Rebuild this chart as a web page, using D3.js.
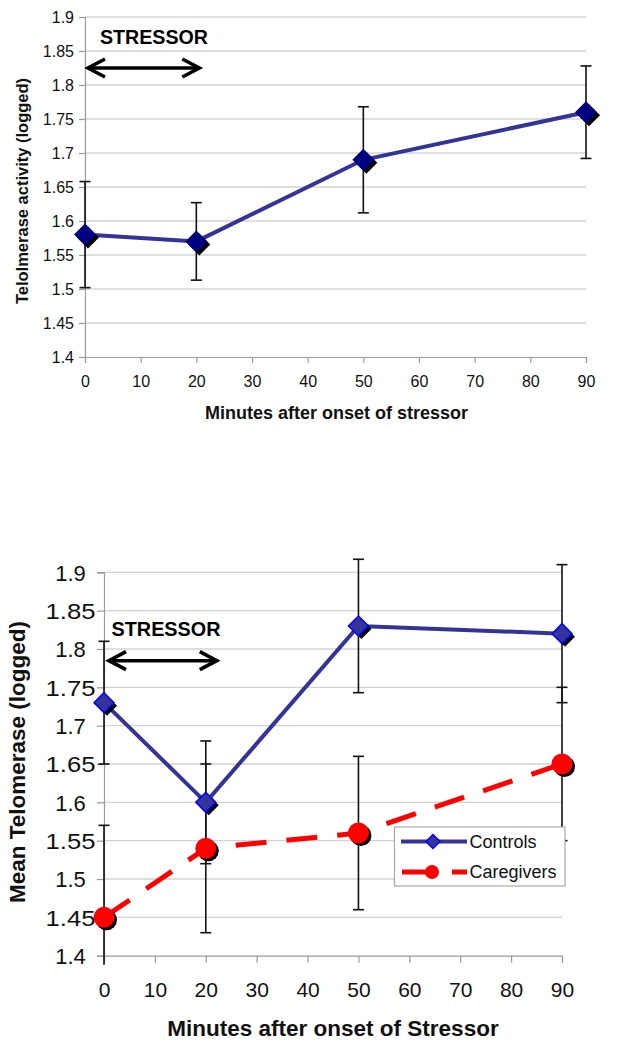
<!DOCTYPE html>
<html>
<head>
<meta charset="utf-8">
<script src="https://cdn.jsdelivr.net/npm/d3@7"></script>
<style>
  html, body { margin: 0; padding: 0; background: #ffffff; }
  svg { display: block; font-family: "Liberation Sans", Arial, Helvetica, sans-serif; }
</style>
</head>
<body>
<script>
// ---------- DATA ----------
const minutes = [0, 20, 50, 90];
const xTicks = [0, 10, 20, 30, 40, 50, 60, 70, 80, 90];
const yTicks = [1.4, 1.45, 1.5, 1.55, 1.6, 1.65, 1.7, 1.75, 1.8, 1.85, 1.9];
const yTickLabels = ["1.4", "1.45", "1.5", "1.55", "1.6", "1.65", "1.7", "1.75", "1.8", "1.85", "1.9"];

// Top chart: single group
const activity = [1.58, 1.57, 1.69, 1.76];
const activityErr = [0.078, 0.057, 0.078, 0.068];

// Bottom chart: two groups
const seriesNames = ["Controls", "Caregivers"];
const controls = [1.73, 1.60, 1.83, 1.82];
const controlsErr = [0.08, 0.08, 0.087, 0.09];
const caregivers = [1.45, 1.54, 1.56, 1.65];
const caregiversErr = [0.12, 0.11, 0.10, 0.10];

const stressorLabel = "STRESSOR";
const stressorRange = [0, 20];

// ---------- SETUP ----------
const W = 617, H = 1050;
const svg = d3.select("body").append("svg").attr("width", W).attr("height", H);

const GRID = "#d3d3d3", AXIS = "#9a9a9a";

function diamond(r) {
  return `M0,${-r}L${r},0L0,${r}L${-r},0Z`;
}

function drawChart(cfg) {
  const g = svg.append("g");
  const x = d3.scaleLinear().domain([0, 90]).range([cfg.x0, cfg.x1]);
  const y = d3.scaleLinear().domain([1.4, 1.9]).range([cfg.yb, cfg.yt]);

  // gridlines
  g.append("g").selectAll("line").data(yTicks.filter(d => d > 1.4)).join("line")
    .attr("x1", cfg.x0).attr("x2", cfg.x1)
    .attr("y1", d => y(d)).attr("y2", d => y(d))
    .attr("stroke", GRID).attr("stroke-width", 1.3);

  // y axis
  const yAxis = d3.axisLeft(y).tickValues(yTicks).tickSize(cfg.tick)
    .tickFormat((d, i) => yTickLabels[i]);
  const ya = g.append("g").attr("transform", `translate(${cfg.x0},0)`).call(yAxis);
  ya.select(".domain").attr("stroke", AXIS).attr("stroke-width", 1.2);
  ya.selectAll(".tick line").attr("stroke", AXIS).attr("stroke-width", 1.2);
  const yt = ya.selectAll(".tick text").attr("font-size", cfg.yTickFont).attr("fill", "#111")
    .attr("font-family", "Liberation Sans, Arial, sans-serif")
    .attr("x", -(cfg.x0 - cfg.yLabelX)).attr("dy", "0.36em")
    .attr("text-anchor", cfg.yLabelAnchor);
  if (cfg.yLabelLongLen) {
    yt.filter(function () { return this.textContent.length > 3; })
      .attr("textLength", cfg.yLabelLongLen).attr("lengthAdjust", "spacingAndGlyphs");
  }

  // x axis
  const xAxis = d3.axisBottom(x).tickValues(xTicks).tickSize(cfg.tick).tickFormat(d3.format("d"));
  const xa = g.append("g").attr("transform", `translate(0,${cfg.yb})`).call(xAxis);
  xa.select(".domain").attr("stroke", AXIS).attr("stroke-width", 1.2);
  xa.selectAll(".tick line").attr("stroke", AXIS).attr("stroke-width", 1.2);
  xa.selectAll(".tick text").attr("font-size", cfg.xTickFont).attr("fill", "#111")
    .attr("font-family", "Liberation Sans, Arial, sans-serif")
    .attr("y", cfg.xLabelY - cfg.yb).attr("dy", "0.36em");

  // axis titles
  g.append("text").attr("x", (cfg.x0 + cfg.x1) / 2 + cfg.xTitleDx).attr("y", cfg.xTitleY)
    .attr("text-anchor", "middle").attr("font-weight", "bold").attr("font-size", cfg.xTitleFont)
    .attr("fill", "#111").text(cfg.xTitle);
  g.append("text").attr("transform", `translate(${cfg.yTitleX},${cfg.yTitleCY}) rotate(-90)`)
    .attr("text-anchor", "middle").attr("dominant-baseline", "central")
    .attr("font-weight", "bold").attr("font-size", cfg.yTitleFont)
    .attr("fill", "#111").text(cfg.yTitle);

  // stressor label & arrow
  g.append("text").attr("x", cfg.stressX).attr("y", cfg.stressY)
    .attr("font-weight", "bold").attr("font-size", cfg.stressFont).attr("fill", "#000")
    .attr("textLength", cfg.stressLen).attr("lengthAdjust", "spacingAndGlyphs")
    .text(stressorLabel);
  const ax0 = x(stressorRange[0]) + cfg.arrowPad0, ax1 = x(stressorRange[1]) + cfg.arrowPad1, ay = cfg.arrowY;
  const ag = g.append("g").attr("stroke", "#000").attr("stroke-width", 3.6).attr("fill", "none")
    .attr("stroke-linecap", "butt").attr("stroke-linejoin", "miter");
  ag.append("line").attr("x1", ax0 + 2).attr("x2", ax1 - 2).attr("y1", ay).attr("y2", ay);
  ag.append("path").attr("d", `M${ax0 + 18},${ay - 9}L${ax0 + 1},${ay}L${ax0 + 18},${ay + 9}`);
  ag.append("path").attr("d", `M${ax1 - 18},${ay - 9}L${ax1 - 1},${ay}L${ax1 - 18},${ay + 9}`);

  return { g, x, y };
}

function errorBars(g, x, y, vals, errs, clipBottom) {
  const eb = g.append("g").attr("stroke", "#111").attr("stroke-width", 1.6);
  minutes.forEach((m, i) => {
    const cx = x(m);
    const yt = y(vals[i] + errs[i]);
    let ybv = y(vals[i] - errs[i]);
    let capBottom = true;
    if (clipBottom !== undefined && ybv > clipBottom) { ybv = clipBottom; capBottom = false; }
    eb.append("line").attr("x1", cx).attr("x2", cx).attr("y1", yt).attr("y2", ybv);
    eb.append("line").attr("x1", cx - 5.5).attr("x2", cx + 5.5).attr("y1", yt).attr("y2", yt);
    if (capBottom) eb.append("line").attr("x1", cx - 5.5).attr("x2", cx + 5.5).attr("y1", ybv).attr("y2", ybv);
  });
}

// ---------- TOP CHART ----------
const topChart = drawChart({
  x0: 85, x1: 586, yt: 17, yb: 357, tick: 6,
  yTickFont: 16, xTickFont: 16, yLabelX: 74, yLabelAnchor: "end", xLabelY: 381,
  xTitle: "Minutes after onset of stressor", xTitleY: 419, xTitleFont: 18, xTitleDx: 1,
  yTitle: "Telolmerase activity (logged)", yTitleX: 22, yTitleCY: 191, yTitleFont: 16.5,
  stressX: 100, stressY: 44, stressFont: 20, stressLen: 108,
  arrowY: 68, arrowPad0: 2, arrowPad1: 4
});
errorBars(topChart.g, topChart.x, topChart.y, activity, activityErr);
const topLine = d3.line().x((d, i) => topChart.x(minutes[i])).y(d => topChart.y(d));
topChart.g.append("path").datum(activity).attr("d", topLine)
  .attr("fill", "none").attr("stroke", "#333399").attr("stroke-width", 4);
topChart.g.append("g").selectAll("path").data(activity).join("path")
  .attr("transform", (d, i) => `translate(${topChart.x(minutes[i]) + 3},${topChart.y(d) + 3})`)
  .attr("d", diamond(11)).attr("fill", "#000");
topChart.g.append("g").selectAll("path").data(activity).join("path")
  .attr("transform", (d, i) => `translate(${topChart.x(minutes[i])},${topChart.y(d)})`)
  .attr("d", diamond(11)).attr("fill", "#000080");

// ---------- BOTTOM CHART ----------
const botChart = drawChart({
  x0: 104, x1: 562, yt: 572.3, yb: 955.7, tick: 7,
  yTickFont: 22, xTickFont: 21, yLabelX: 70.5, yLabelAnchor: "middle", yLabelLongLen: 50, xLabelY: 989,
  xTitle: "Minutes after onset of Stressor", xTitleY: 1036, xTitleFont: 22.5, xTitleDx: 0,
  yTitle: "Mean Telomerase (logged)", yTitleX: 17, yTitleCY: 762, yTitleFont: 22.5,
  stressX: 111.5, stressY: 635.5, stressFont: 20.5, stressLen: 109,
  arrowY: 660.7, arrowPad0: 4, arrowPad1: 12
});
errorBars(botChart.g, botChart.x, botChart.y, controls, controlsErr);
errorBars(botChart.g, botChart.x, botChart.y, caregivers, caregiversErr, botChart.y(1.4) + 9);

const botLine = d3.line().x((d, i) => botChart.x(minutes[i])).y(d => botChart.y(d));
botChart.g.append("path").datum(controls).attr("d", botLine)
  .attr("fill", "none").attr("stroke", "#333399").attr("stroke-width", 4);
botChart.g.append("path").datum(caregivers).attr("d", botLine)
  .attr("fill", "none").attr("stroke", "#ff0000").attr("stroke-width", 5)
  .attr("stroke-dasharray", "31,20");

// controls markers
botChart.g.append("g").selectAll("path").data(controls).join("path")
  .attr("transform", (d, i) => `translate(${botChart.x(minutes[i]) + 3},${botChart.y(d) + 3})`)
  .attr("d", diamond(10)).attr("fill", "#000");
botChart.g.append("g").selectAll("path").data(controls).join("path")
  .attr("transform", (d, i) => `translate(${botChart.x(minutes[i])},${botChart.y(d)})`)
  .attr("d", diamond(10)).attr("fill", "#333399").attr("stroke", "#0000ff").attr("stroke-width", 1.5);
// caregivers markers
botChart.g.append("g").selectAll("circle").data(caregivers).join("circle")
  .attr("cx", (d, i) => botChart.x(minutes[i]) + 2.5).attr("cy", d => botChart.y(d) + 2.5)
  .attr("r", 10.5).attr("fill", "#000");
botChart.g.append("g").selectAll("circle").data(caregivers).join("circle")
  .attr("cx", (d, i) => botChart.x(minutes[i])).attr("cy", d => botChart.y(d))
  .attr("r", 10.5).attr("fill", "#ff0000");

// legend
const lg = svg.append("g");
lg.append("rect").attr("x", 394.5).attr("y", 827).attr("width", 170.5).attr("height", 59)
  .attr("fill", "#fff").attr("stroke", "#a8a8a8").attr("stroke-width", 1.2);
const legendRows = [
  { name: seriesNames[0], y: 841.5 },
  { name: seriesNames[1], y: 872 }
];
// controls row
lg.append("line").attr("x1", 401).attr("x2", 467).attr("y1", legendRows[0].y).attr("y2", legendRows[0].y)
  .attr("stroke", "#333399").attr("stroke-width", 4);
lg.append("path").attr("transform", `translate(433,${legendRows[0].y})`).attr("d", diamond(7))
  .attr("fill", "#333399").attr("stroke", "#0000ff").attr("stroke-width", 1.5);
// caregivers row
lg.append("line").attr("x1", 402).attr("x2", 467).attr("y1", legendRows[1].y).attr("y2", legendRows[1].y)
  .attr("stroke", "#ff0000").attr("stroke-width", 5).attr("stroke-dasharray", "30,20");
lg.append("circle").attr("cx", 432).attr("cy", legendRows[1].y).attr("r", 7).attr("fill", "#ff0000");
lg.selectAll("text.lt").data(legendRows).join("text").attr("class", "lt")
  .attr("x", 469.5).attr("y", d => d.y).attr("dy", "0.36em")
  .attr("font-size", 18).attr("fill", "#111").text(d => d.name);
</script>
</body>
</html>
